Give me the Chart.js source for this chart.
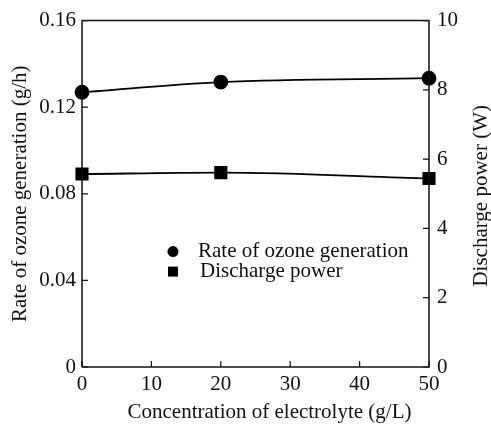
<!DOCTYPE html>
<html><head><meta charset="utf-8">
<script src="https://cdn.jsdelivr.net/npm/chart.js@4"></script>
<style>html,body{margin:0;padding:0;background:#fff}#wrap{width:491px;height:427px}</style>
</head><body><div id="wrap"><canvas id="c" width="491" height="427"></canvas></div>
<script>
const concentration = [0, 20, 50];
const ozoneRate = [0.1269, 0.1316, 0.1334];
const dischargePower = [5.57, 5.61, 5.44];
const seriesNames = ['Rate of ozone generation', 'Discharge power'];
const xTicks = [0, 10, 20, 30, 40, 50];
const leftTicks = [0, 0.04, 0.08, 0.12, 0.16];
const rightTicks = [0, 2, 4, 6, 8, 10];
const xTitle = 'Concentration of electrolyte (g/L)';
const rightTitle = 'Discharge power (W)';

const FONT = 'Liberation Serif';
const INK = '#111';
const FS = 21;

const decorPlugin = {
  id: 'decor',
  afterDraw(chart) {
    const ctx = chart.ctx, a = chart.chartArea;
    const sx = chart.scales.x, yl = chart.scales.yl, yr = chart.scales.yr;
    ctx.save();
    ctx.strokeStyle = INK; ctx.lineWidth = 1.5;
    ctx.beginPath();
    ctx.moveTo(a.left, a.bottom); ctx.lineTo(a.left, a.top); ctx.lineTo(a.right, a.top); ctx.lineTo(a.right, a.bottom); ctx.lineTo(a.left, a.bottom);
    ctx.stroke();
    ctx.lineWidth = 1.2;
    ctx.beginPath();
    xTicks.forEach(v => { const px = sx.getPixelForValue(v); ctx.moveTo(px, a.bottom); ctx.lineTo(px, a.bottom - 6); });
    leftTicks.forEach(v => { const py = yl.getPixelForValue(v); ctx.moveTo(a.left, py); ctx.lineTo(a.left + 6, py); });
    rightTicks.forEach(v => { const py = yr.getPixelForValue(v); ctx.moveTo(a.right, py); ctx.lineTo(a.right - 6, py); });
    ctx.stroke();
    // legend
    const lx = a.left + 91, ly = a.top + 231;
    ctx.fillStyle = '#000';
    ctx.beginPath(); ctx.arc(lx, ly, 5.5, 0, Math.PI * 2); ctx.fill();
    ctx.fillRect(lx - 5, ly + 20 - 5, 10, 10);
    ctx.fillStyle = INK;
    ctx.font = FS + 'px "' + FONT + '"';
    ctx.textBaseline = 'middle'; ctx.textAlign = 'left';
    ctx.fillText(seriesNames[0], lx + 25, ly);
    ctx.fillText(seriesNames[1], lx + 27, ly + 20);
    // x axis title
    ctx.textAlign = 'center';
    ctx.fillText(xTitle, (a.left + a.right) / 2 + 14, chart.height - 15);
    // right axis title (reads bottom-to-top)
    ctx.translate(chart.width - 10, (a.top + a.bottom) / 2 + 2);
    ctx.rotate(-Math.PI / 2);
    ctx.fillText(rightTitle, 0, 0);
    ctx.restore();
  }
};

new Chart(document.getElementById('c'), {
  type: 'line',
  data: {
    datasets: [
      { label: seriesNames[0], yAxisID: 'yl',
        data: concentration.map((c, i) => ({ x: c, y: ozoneRate[i] })),
        borderColor: '#000', backgroundColor: '#000', borderWidth: 1.8,
        pointStyle: 'circle', pointRadius: 6.5, pointHoverRadius: 6.5,
        cubicInterpolationMode: 'monotone', clip: false },
      { label: seriesNames[1], yAxisID: 'yr',
        data: concentration.map((c, i) => ({ x: c, y: dischargePower[i] })),
        borderColor: '#000', backgroundColor: '#000', borderWidth: 1.8,
        pointStyle: 'rect', pointRadius: 8, pointHoverRadius: 8,
        cubicInterpolationMode: 'monotone', clip: false }
    ]
  },
  options: {
    responsive: false, animation: false, devicePixelRatio: 1,
    layout: { padding: { top: 20, right: 0, left: 0, bottom: 0 } },
    plugins: { legend: { display: false }, tooltip: { enabled: false } },
    scales: {
      x: { type: 'linear', min: 0, max: 50,
        afterBuildTicks: s => { s.ticks = xTicks.map(v => ({ value: v })); },
        afterFit: s => { s.height = 60; },
        grid: { display: false, drawTicks: false }, border: { display: false },
        ticks: { padding: 5, color: INK, font: { family: FONT, size: FS } },
        title: { display: false } },
      yl: { type: 'linear', position: 'left', min: 0, max: 0.16,
        afterBuildTicks: s => { s.ticks = leftTicks.map(v => ({ value: v })); },
        afterFit: s => { s.width = 82; },
        grid: { display: false, drawTicks: false }, border: { display: false },
        ticks: { padding: 6, color: INK, font: { family: FONT, size: FS },
          callback: v => v === 0 ? '0' : v.toFixed(2) },
        title: { display: true, text: 'Rate of ozone generation (g/h)', color: INK,
          font: { family: FONT, size: FS, lineHeight: 1 }, padding: { top: 9.5, bottom: 0 } } },
      yr: { type: 'linear', position: 'right', min: 0, max: 10,
        afterBuildTicks: s => { s.ticks = rightTicks.map(v => ({ value: v })); },
        afterFit: s => { s.width = 62; },
        grid: { display: false, drawTicks: false }, border: { display: false },
        ticks: { padding: 8, color: INK, font: { family: FONT, size: FS } },
        title: { display: false } }
    }
  },
  plugins: [decorPlugin]
});
</script></body></html>
